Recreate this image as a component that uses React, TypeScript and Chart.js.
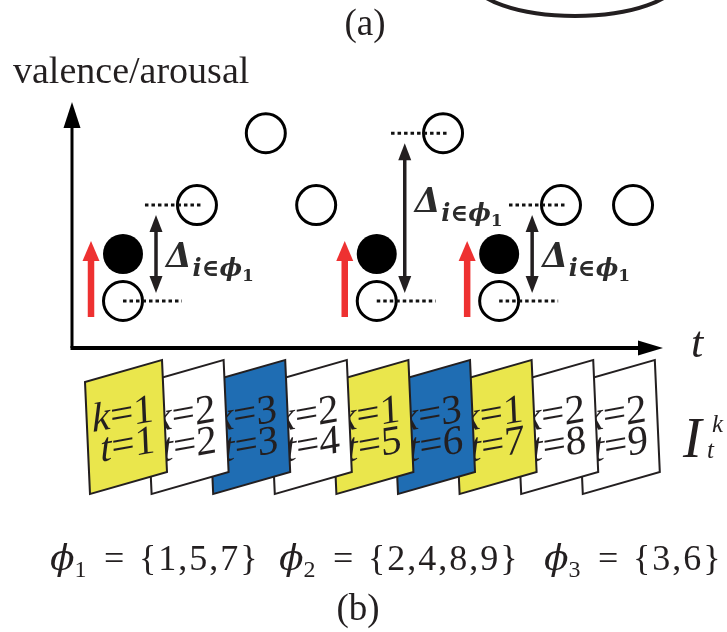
import React, { useEffect, useRef } from "react";
import { Chart, registerables } from "chart.js";

Chart.register(...registerables);

// ---------------- data ----------------
const frameTimes = [1, 2, 3, 4, 5, 6, 7, 8, 9];
const framePositions = [1.0, 2.16, 3.24, 4.03, 4.98, 6.02, 6.9, 7.87, 9.0];
const observedLevels = [1.0, 3.04, 4.57, 3.04, 1.0, 4.57, 1.0, 3.04, 3.04];
const frameClusters = [1, 2, 3, 2, 1, 3, 1, 2, 2];
const phi1 = [1, 5, 7];
const phi2 = [2, 4, 8, 9];
const phi3 = [3, 6];
const adjustedLevels = [2.0, 2.0, 2.0];
const deltaReferenceFrames = [2, 6, 8];
const deltaLabelLevels = [1.73, 2.9, 1.73];
const yAxisTitle = "valence/arousal";
const xAxisTitle = "t";
const panelLabels = ["(a)", "(b)"];

// ---------------- styles ----------------
const INK = "#231f20";
const RED = "#ee3131";
const CLUSTER_COLORS: Record<number, string> = { 1: "#eae64c", 2: "#ffffff", 3: "#1f6db3" };
const SERIF = '"Liberation Serif", "DejaVu Serif", serif';
const MATH = '"DejaVu Serif", "Liberation Serif", serif';

function drawRuns(ctx: CanvasRenderingContext2D, runs: [string, string, number?][], x: number, y: number) {
  let cx = x;
  for (const [text, font, dy] of runs) {
    ctx.font = font;
    ctx.fillText(text, cx, y + (dy || 0));
    cx += ctx.measureText(text).width;
  }
  return cx;
}

function measureRuns(ctx: CanvasRenderingContext2D, runs: [string, string, number?][]) {
  let w = 0;
  for (const [text, font] of runs) {
    ctx.font = font;
    w += ctx.measureText(text).width;
  }
  return w;
}

function upArrow(ctx: CanvasRenderingContext2D, x: number, yBottom: number, yTip: number, shaftW: number, headW: number, headL: number, color: string) {
  ctx.fillStyle = color;
  ctx.fillRect(x - shaftW / 2, yTip + headL - 1, shaftW, yBottom - (yTip + headL - 1));
  ctx.beginPath();
  ctx.moveTo(x, yTip);
  ctx.lineTo(x - headW / 2, yTip + headL);
  ctx.lineTo(x + headW / 2, yTip + headL);
  ctx.closePath();
  ctx.fill();
}

function doubleArrow(ctx: CanvasRenderingContext2D, x: number, yTop: number, yBottom: number) {
  const headL = 17, headW = 13, shaftW = 3.5;
  ctx.fillStyle = INK;
  ctx.fillRect(x - shaftW / 2, yTop + headL - 1, shaftW, yBottom - yTop - 2 * headL + 2);
  ctx.beginPath();
  ctx.moveTo(x, yTop);
  ctx.lineTo(x - headW / 2, yTop + headL);
  ctx.lineTo(x + headW / 2, yTop + headL);
  ctx.closePath();
  ctx.fill();
  ctx.beginPath();
  ctx.moveTo(x, yBottom);
  ctx.lineTo(x - headW / 2, yBottom - headL);
  ctx.lineTo(x + headW / 2, yBottom - headL);
  ctx.closePath();
  ctx.fill();
}

function dotted(ctx: CanvasRenderingContext2D, x1: number, x2: number, y: number) {
  ctx.save();
  ctx.strokeStyle = "#111";
  ctx.lineWidth = 3;
  ctx.setLineDash([3.5, 3]);
  ctx.beginPath();
  ctx.moveTo(x1, y);
  ctx.lineTo(x2, y);
  ctx.stroke();
  ctx.restore();
}

const figurePlugin = {
  id: "figure",
  afterDatasetsDraw(chart: any) {
    const ctx: CanvasRenderingContext2D = chart.ctx;
    const X = (v: number) => chart.scales.x.getPixelForValue(v);
    const Y = (v: number) => chart.scales.y.getPixelForValue(v);
    const XF = (v: number) => chart.scales.xf.getPixelForValue(v);
    const area = chart.chartArea;
    ctx.save();
    ctx.textBaseline = "alphabetic";

    // ---- panel (a) remnant ----
    ctx.strokeStyle = INK;
    ctx.lineWidth = 4;
    ctx.beginPath();
    ctx.ellipse(575, -20, 102, 36, 0, 0, Math.PI);
    ctx.stroke();
    ctx.fillStyle = INK;
    ctx.font = `37px ${SERIF}`;
    ctx.textAlign = "center";
    ctx.fillText(panelLabels[0], 365, 35);
    ctx.textAlign = "left";

    // ---- axes ----
    const ox = area.left, oy = area.bottom;
    ctx.strokeStyle = "#000";
    ctx.fillStyle = "#000";
    ctx.lineWidth = 3;
    ctx.beginPath();
    ctx.moveTo(ox, oy);
    ctx.lineTo(ox, area.top + 20);
    ctx.stroke();
    ctx.beginPath();
    ctx.moveTo(ox, area.top);
    ctx.lineTo(ox - 8.5, area.top + 26);
    ctx.lineTo(ox + 8.5, area.top + 26);
    ctx.closePath();
    ctx.fill();
    ctx.lineWidth = 4;
    ctx.beginPath();
    ctx.moveTo(ox - 1.5, oy);
    ctx.lineTo(area.right - 20, oy);
    ctx.stroke();
    ctx.beginPath();
    ctx.moveTo(area.right, oy);
    ctx.lineTo(area.right - 25, oy - 7.5);
    ctx.lineTo(area.right - 25, oy + 7.5);
    ctx.closePath();
    ctx.fill();

    ctx.fillStyle = INK;
    ctx.font = `38px ${SERIF}`;
    ctx.fillText(yAxisTitle, 13, 83);
    ctx.font = `italic 44px ${SERIF}`;
    ctx.fillText(xAxisTitle, area.right + 28, oy + 9);

    // ---- phi_1 adjustments ----
    phi1.forEach((f, j) => {
      const xg = X(framePositions[f - 1]);
      const yLow = Y(observedLevels[f - 1]);
      const ref = deltaReferenceFrames[j];
      const xr = X(framePositions[ref - 1]);
      const yHigh = Y(observedLevels[ref - 1]);
      dotted(ctx, xg, xg + 59, yLow);
      dotted(ctx, xr - 52, xr + 6, yHigh);
      const ax = xg + [33, 28, 33][j];
      doubleArrow(ctx, ax, yHigh + 10, yLow - 8);
      upArrow(ctx, xg - 32, yLow + 16, Y(adjustedLevels[j]) - 13, 6.5, 17, 20, RED);
      ctx.fillStyle = "#2b2b2b";
      const by = Y(deltaLabelLevels[j]);
      let cx = drawRuns(ctx, [["\u0394", `bold italic 33px ${MATH}`, 0]], ax + 10, by);
      cx = drawRuns(ctx, [["i\u2208\u03d5", `bold italic 24px ${MATH}`, 9]], cx + 1, by);
      drawRuns(ctx, [["1", `bold 17px ${MATH}`, 14]], cx, by);
    });

    // ---- frames (cards) ----
    const cardTop = oy + 34, cardW = 77, cardH = 112, rise = 22, lean = 5;
    for (let i = frameTimes.length - 1; i >= 0; i--) {
      const left = XF(frameTimes[i]) - cardW / 2;
      ctx.save();
      ctx.transform(1, -rise / cardW, lean / cardH, 1, left, cardTop);
      ctx.beginPath();
      ctx.rect(0, 0, cardW, cardH);
      ctx.fillStyle = CLUSTER_COLORS[frameClusters[i]];
      ctx.fill();
      ctx.lineWidth = 2;
      ctx.strokeStyle = INK;
      ctx.stroke();
      ctx.restore();

      ctx.save();
      ctx.transform(1, -0.18, lean / cardH, 1, left, cardTop);
      ctx.fillStyle = INK;
      const row1: [string, string, number?][] = [["k", `italic 41px ${SERIF}`], ["=" + frameClusters[i], `41px ${SERIF}`]];
      const row2: [string, string, number?][] = [["t", `italic 41px ${SERIF}`], ["=" + frameTimes[i], `41px ${SERIF}`]];
      drawRuns(ctx, row1, 67 - measureRuns(ctx, row1), 51);
      drawRuns(ctx, row2, 67 - measureRuns(ctx, row2), 82);
      ctx.restore();
    }

    // I_t^k
    ctx.fillStyle = INK;
    ctx.font = `italic 56px ${SERIF}`;
    ctx.fillText("I", 683, 457);
    ctx.font = `italic 25px ${SERIF}`;
    ctx.fillText("k", 712, 432);
    ctx.fillText("t", 707, 458);

    // ---- cluster sets ----
    const sets = [phi1, phi2, phi3];
    const groupX = [50, 279, 544];
    const fy = 570;
    sets.forEach((s, j) => {
      const gx = groupX[j];
      ctx.fillStyle = INK;
      let cx = drawRuns(ctx, [["\u03d5", `italic 36px ${MATH}`, 0]], gx, fy);
      drawRuns(ctx, [[String(j + 1), `24px ${SERIF}`, 7]], cx, fy);
      ctx.font = `36px ${SERIF}`;
      ctx.fillText("=", gx + 54, fy);
      (ctx as any).letterSpacing = "2px";
      ctx.fillText("{" + s.join(",") + "}", gx + 89, fy);
      (ctx as any).letterSpacing = "0px";
    });

    ctx.font = `37px ${SERIF}`;
    ctx.textAlign = "center";
    ctx.fillText(panelLabels[1], 358, 620);
    ctx.restore();
  },
};

export default function App() {
  const ref = useRef<HTMLCanvasElement | null>(null);
  useEffect(() => {
    if (!ref.current) return;
    const chart = new Chart(ref.current, {
      type: "scatter",
      data: {
        datasets: [
          {
            label: "observed",
            data: frameTimes.map((_, i) => ({ x: framePositions[i], y: observedLevels[i] })),
            pointRadius: 19.5,
            pointHoverRadius: 19.5,
            pointBorderWidth: 3,
            pointBackgroundColor: "rgba(0,0,0,0)",
            pointBorderColor: "#000",
            clip: false,
          },
          {
            label: "adjusted",
            data: phi1.map((f, j) => ({ x: framePositions[f - 1], y: adjustedLevels[j] })),
            pointRadius: 20,
            pointHoverRadius: 20,
            pointBorderWidth: 0,
            pointBackgroundColor: "#000",
            pointBorderColor: "#000",
            clip: false,
          },
        ],
      } as any,
      options: {
        animation: false,
        responsive: false,
        devicePixelRatio: 1,
        events: [],
        layout: { padding: { left: 72, top: 102, right: 64, bottom: 284 } },
        scales: {
          x: { type: "linear", min: 0.2, max: 9.47, display: false },
          y: { type: "linear", min: 0, max: 5.234, display: false },
          xf: { type: "linear", axis: "x", min: 0.164, max: 9.758, display: false },
        },
        plugins: { legend: { display: false }, tooltip: { enabled: false } },
      } as any,
      plugins: [figurePlugin as any],
    });
    return () => chart.destroy();
  }, []);
  return (
    <div style={{ position: "fixed", left: 0, top: 0, width: 727, height: 632, background: "#fff" }}>
      <canvas ref={ref} width={727} height={632} style={{ width: 727, height: 632, display: "block" }} />
    </div>
  );
}
